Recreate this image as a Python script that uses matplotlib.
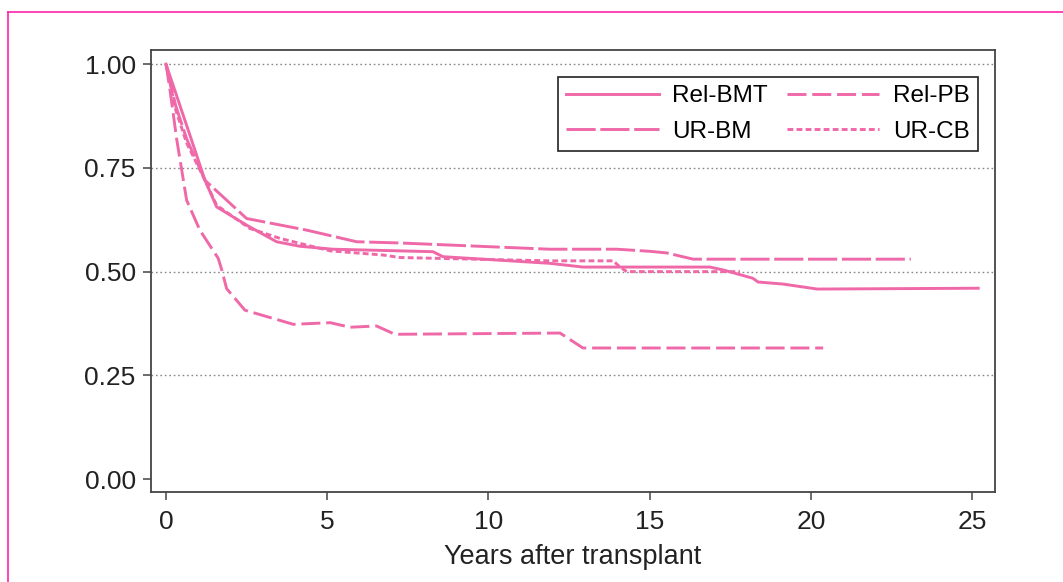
import matplotlib
matplotlib.use("Agg")
import matplotlib.pyplot as plt
from matplotlib.lines import Line2D

plt.rcParams['font.family'] = ['Liberation Sans', 'DejaVu Sans']

# Data
rel_bmt_x = [0, 0.78, 1.21, 1.57, 2.5, 3.43, 4.16, 5.18, 8.28, 8.59, 11.9, 12.93, 16.87, 17.28, 18.2, 18.36, 19.14, 20.2, 25.19]
rel_bmt_y = [1.0, 0.82, 0.72, 0.656, 0.612, 0.572, 0.561, 0.554, 0.548, 0.536, 0.520, 0.511, 0.511, 0.504, 0.484, 0.475, 0.470, 0.458, 0.460]

rel_pb_x = [0, 0.12, 0.33, 0.64, 1.05, 1.62, 1.73, 1.88, 2.45, 3.95, 5.09, 5.71, 6.53, 7.1, 12.22, 12.93, 20.38]
rel_pb_y = [1.0, 0.94, 0.82, 0.672, 0.60, 0.532, 0.504, 0.459, 0.407, 0.373, 0.377, 0.366, 0.369, 0.349, 0.352, 0.316, 0.316]

ur_bm_x = [0, 0.3, 0.64, 1.21, 2.5, 4.36, 5.91, 7.26, 11.9, 13.98, 15.0, 15.53, 16.35, 23.1]
ur_bm_y = [1.0, 0.90, 0.82, 0.72, 0.628, 0.600, 0.572, 0.569, 0.554, 0.554, 0.549, 0.545, 0.530, 0.530]

ur_cb_x = [0, 0.3, 0.64, 1.21, 1.57, 2.6, 3.54, 5.09, 6.73, 7.26, 11.9, 13.87, 14.08, 14.29, 17.8]
ur_cb_y = [1.0, 0.89, 0.81, 0.72, 0.66, 0.604, 0.58, 0.55, 0.54, 0.534, 0.526, 0.526, 0.511, 0.50, 0.50]

x_ticks = [0, 5, 10, 15, 20, 25]
y_ticks = [0.00, 0.25, 0.50, 0.75, 1.00]
y_tick_labels = ["0.00", "0.25", "0.50", "0.75", "1.00"]

W, H = 1063, 582
fig = plt.figure(figsize=(W / 100, H / 100), dpi=100)
fig.patch.set_facecolor('white')

# magenta frame
frame_c = '#FF22AA'
fig.add_artist(Line2D([8 / W, 8 / W], [0, 1 - 12 / H], color=frame_c, lw=1.2, transform=fig.transFigure))
fig.add_artist(Line2D([8 / W, 1], [1 - 12 / H, 1 - 12 / H], color=frame_c, lw=1.2, transform=fig.transFigure))

left, right, top, bottom = 151, 995, 50, 492
ax = fig.add_axes([left / W, 1 - bottom / H, (right - left) / W, (bottom - top) / H])

col = '#EF68A8'
lw = 2.1
ax.plot(rel_bmt_x, rel_bmt_y, color=col, lw=lw, linestyle='-', label='Rel-BMT')
ax.plot(ur_bm_x, ur_bm_y, color=col, lw=lw, linestyle=(0, (10, 1.6)), label='UR-BM')
ax.plot(rel_pb_x, rel_pb_y, color=col, lw=lw, linestyle=(0, (6.5, 2.0)), label='Rel-PB')
ax.plot(ur_cb_x, ur_cb_y, color=col, lw=lw, linestyle=(0, (2.0, 1.1)), label='UR-CB')

ax.set_xlim(-0.465, 25.71)
ax.set_ylim(-0.031, 1.034)
ax.set_xticks(x_ticks)
ax.set_yticks(y_ticks)
ax.set_yticklabels(y_tick_labels)

for yv in [0.25, 0.5, 0.75, 1.0]:
    ax.axhline(yv, color='#8a8a8a', lw=1.0, linestyle=(0, (1.2, 2.0)), zorder=0)

spine_c = '#444444'
for s in ax.spines.values():
    s.set_color(spine_c)
    s.set_linewidth(1.3)
ax.tick_params(axis='both', direction='out', length=6, width=1.1, color=spine_c,
               labelsize=19, labelcolor='#222222', pad=5)
ax.tick_params(axis='x', pad=7)

ax.set_xlabel('Years after transplant', fontsize=19.5, color='#222222', labelpad=7)

leg = ax.legend(ncol=2, loc='upper right', bbox_to_anchor=(0.98, 0.939), borderaxespad=0,
                fontsize=17.5, handlelength=3.8, handletextpad=0.55, columnspacing=0.8,
                labelspacing=0.55, fancybox=False, framealpha=1, borderpad=0.35)
leg.get_frame().set_edgecolor('#222222')
leg.get_frame().set_linewidth(1.2)

fig.savefig('out.png', dpi=100)
